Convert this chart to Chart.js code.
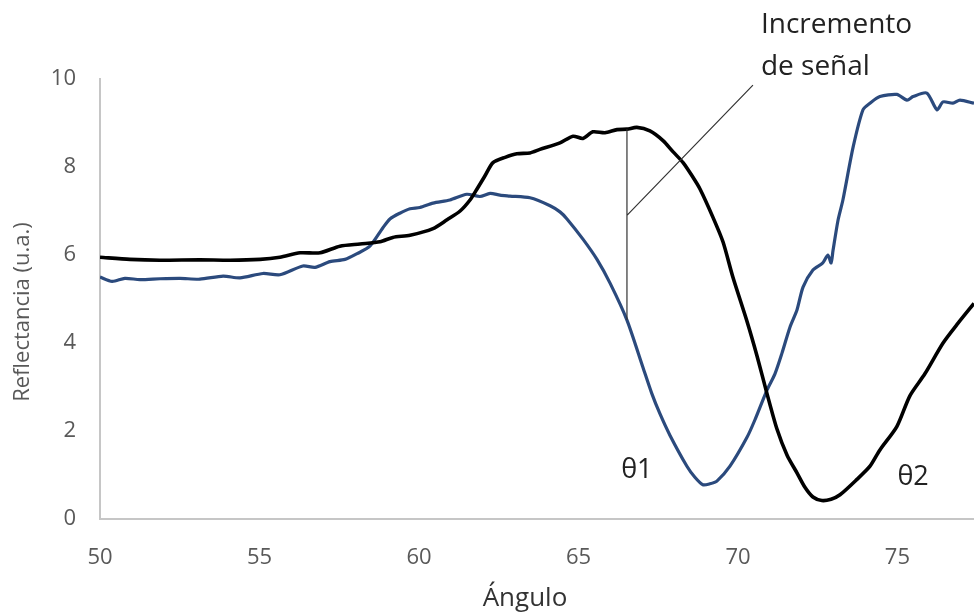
<!DOCTYPE html>
<html>
<head>
<meta charset="utf-8">
<script src="https://cdn.jsdelivr.net/npm/chart.js@4.4.1/dist/chart.umd.min.js"></script>
<style>
  html, body { margin: 0; padding: 0; background: #fff; }
  #wrap { width: 974px; height: 615px; position: relative; }
</style>
</head>
<body>
<div id="wrap"><canvas id="spr"></canvas></div>
<script>
// curva antes de la unión (azul)
const anguloAzul = [50.0, 50.38, 50.78, 51.25, 51.88, 52.51, 53.13, 53.86, 54.39, 55.11, 55.64, 56.36, 56.74, 57.21, 57.68, 58.06, 58.46, 58.87, 59.09, 59.40, 59.72, 60.03, 60.44, 60.97, 61.50, 61.91, 62.23, 62.54, 62.85, 63.48, 64.11, 64.42, 64.64, 65.14, 65.58, 65.99, 66.52, 67.02, 67.30, 67.55, 67.87, 68.40, 68.65, 68.90, 69.12, 69.34, 69.75, 70.28, 70.53, 70.91, 71.16, 71.38, 71.63, 71.85, 72.04, 72.35, 72.66, 72.82, 72.92, 72.98, 73.14, 73.29, 73.61, 73.92, 74.14, 74.45, 74.98, 75.30, 75.49, 75.92, 76.24, 76.43, 76.74, 76.96, 77.40];
const reflAzul = [5.50, 5.40, 5.47, 5.44, 5.46, 5.47, 5.45, 5.52, 5.48, 5.58, 5.55, 5.75, 5.72, 5.85, 5.90, 6.03, 6.20, 6.62, 6.82, 6.95, 7.05, 7.08, 7.18, 7.25, 7.38, 7.33, 7.40, 7.36, 7.34, 7.30, 7.12, 6.98, 6.82, 6.36, 5.90, 5.36, 4.52, 3.45, 2.85, 2.40, 1.90, 1.20, 0.95, 0.78, 0.80, 0.86, 1.20, 1.85, 2.25, 2.93, 3.30, 3.77, 4.36, 4.75, 5.27, 5.66, 5.82, 6.00, 5.82, 6.10, 6.80, 7.25, 8.45, 9.30, 9.45, 9.60, 9.65, 9.52, 9.60, 9.68, 9.30, 9.48, 9.45, 9.52, 9.45];

// curva después de la unión (negra)
const anguloNegro = [50.0, 50.94, 51.88, 53.13, 54.08, 55.02, 55.64, 56.27, 56.90, 57.52, 58.15, 58.78, 59.18, 59.72, 60.44, 60.88, 61.29, 61.60, 61.82, 62.07, 62.32, 62.70, 63.07, 63.48, 63.79, 64.42, 64.83, 65.14, 65.45, 65.83, 66.21, 66.52, 66.83, 67.24, 67.65, 67.96, 68.28, 68.56, 68.81, 69.22, 69.53, 69.84, 70.28, 70.60, 70.91, 71.22, 71.54, 71.85, 72.10, 72.35, 72.63, 72.92, 73.20, 73.73, 74.14, 74.45, 74.98, 75.39, 75.86, 76.43, 76.90, 77.40];
const reflNegro = [5.95, 5.90, 5.88, 5.89, 5.88, 5.90, 5.95, 6.05, 6.05, 6.20, 6.25, 6.30, 6.40, 6.45, 6.60, 6.80, 7.00, 7.25, 7.50, 7.80, 8.10, 8.22, 8.30, 8.32, 8.40, 8.55, 8.70, 8.65, 8.80, 8.78, 8.85, 8.86, 8.90, 8.82, 8.60, 8.35, 8.10, 7.80, 7.50, 6.85, 6.30, 5.50, 4.50, 3.70, 2.85, 2.05, 1.45, 1.05, 0.72, 0.50, 0.42, 0.45, 0.55, 0.90, 1.20, 1.57, 2.10, 2.80, 3.30, 4.00, 4.45, 4.90];

const ticksX = [50, 55, 60, 65, 70, 75];
const ticksY = [0, 2, 4, 6, 8, 10];

// anotaciones: marca del incremento y etiquetas de los mínimos
const marca = { x: 66.52, arriba: 8.86, abajo: 4.52 };
const guia = [[66.52, 6.9], [70.47, 9.86]];
const textos = [
  { t: 'Incremento', x: 70.72, y: 11.22, align: 'left', size: 28 },
  { t: 'de señal', x: 70.72, y: 10.27, align: 'left', size: 28 },
  { t: 'θ1', x: 66.83, y: 1.11, align: 'center', size: 27 },
  { t: 'θ2', x: 75.49, y: 0.95, align: 'center', size: 27 }
];

const anotar = {
  id: 'anotar',
  afterDatasetsDraw(chart) {
    const { ctx, scales: { x, y } } = chart;
    ctx.save();
    ctx.strokeStyle = '#333';
    ctx.lineWidth = 1.2;
    ctx.beginPath();
    ctx.moveTo(x.getPixelForValue(marca.x), y.getPixelForValue(marca.arriba));
    ctx.lineTo(x.getPixelForValue(marca.x), y.getPixelForValue(marca.abajo));
    ctx.moveTo(x.getPixelForValue(guia[0][0]), y.getPixelForValue(guia[0][1]));
    ctx.lineTo(x.getPixelForValue(guia[1][0]), y.getPixelForValue(guia[1][1]));
    ctx.stroke();
    ctx.fillStyle = '#222';
    ctx.textBaseline = 'middle';
    textos.forEach(o => {
      ctx.font = o.size + 'px "Open Sans"';
      ctx.textAlign = o.align;
      ctx.fillText(o.t, x.getPixelForValue(o.x), y.getPixelForValue(o.y));
    });

    // títulos de los ejes
    ctx.textAlign = 'center';
    ctx.fillStyle = '#333';
    ctx.font = '26px "Open Sans"';
    ctx.fillText('Ángulo', 525, 599);
    ctx.translate(23, 312);
    ctx.rotate(-Math.PI / 2);
    ctx.fillStyle = '#595959';
    ctx.font = '22px "Open Sans"';
    ctx.fillText('Reflectancia (u.a.)', 0, 0);
    ctx.restore();
  }
};

const pares = (xs, ys) => xs.map((v, i) => ({ x: v, y: ys[i] }));

new Chart(document.getElementById('spr'), {
  type: 'line',
  data: {
    datasets: [
      {
        label: 'Después',
        data: pares(anguloNegro, reflNegro),
        borderColor: '#000',
        borderWidth: 3.6,
        pointRadius: 0,
        tension: 0.25
      },
      {
        label: 'Antes',
        data: pares(anguloAzul, reflAzul),
        borderColor: '#2b4a7d',
        borderWidth: 3.2,
        pointRadius: 0,
        tension: 0.25
      }
    ]
  },
  options: {
    responsive: true,
    maintainAspectRatio: false,
    animation: false,
    layout: { padding: { top: 79, right: 0, left: 0, bottom: 0 } },
    plugins: { legend: { display: false }, tooltip: { enabled: false } },
    scales: {
      x: {
        type: 'linear',
        min: 50,
        max: 77.4,
        afterFit(s) { s.height = 96; },
        afterBuildTicks(s) { s.ticks = ticksX.map(v => ({ value: v })); },
        grid: { display: false, drawTicks: false },
        border: { color: '#c6c6c6', width: 2 },
        ticks: { padding: 26, color: '#595959', font: { family: 'Open Sans', size: 22 } }
      },
      y: {
        min: 0,
        max: 10,
        afterFit(s) { s.width = 100; },
        afterBuildTicks(s) { s.ticks = ticksY.map(v => ({ value: v })); },
        grid: { display: false, drawTicks: false },
        border: { color: '#c6c6c6', width: 2 },
        ticks: { padding: 24, color: '#595959', font: { family: 'Open Sans', size: 22 } }
      }
    }
  },
  plugins: [anotar]
});
</script>
</body>
</html>
